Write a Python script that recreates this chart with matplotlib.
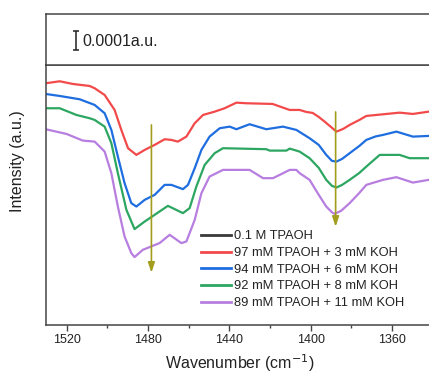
import matplotlib
matplotlib.use("Agg")
import matplotlib.pyplot as plt
from matplotlib.lines import Line2D

plt.rcParams['font.family'] = ['Liberation Sans', 'DejaVu Sans']

# ---- data (wavenumber cm^-1, intensity in arbitrary units) ----
labels = ["0.1 M TPAOH", "97 mM TPAOH + 3 mM KOH", "94 mM TPAOH + 6 mM KOH",
          "92 mM TPAOH + 8 mM KOH", "89 mM TPAOH + 11 mM KOH"]
colors = ["#3a3a3a", "#f24a4a", "#1f6ee0", "#2ca660", "#b77ee0"]

wn_red = [1530.3, 1523.4, 1516.9, 1508.7, 1506.2, 1501.3, 1496.4, 1493.1, 1489.8, 1485.7,
          1481.6, 1476.7, 1471.8, 1468.5, 1465.3, 1461.1, 1457.0, 1452.9, 1447.2, 1442.3,
          1436.5, 1431.6, 1418.7, 1410.3, 1405.4, 1402.1, 1399.0, 1396.0, 1393.1, 1390.0,
          1387.3, 1384.0, 1380.8, 1376.0, 1372.6, 1362.7, 1356.2, 1349.7, 1341.9]
int_red = [241.7, 243.7, 241.0, 239.0, 236.7, 230.0, 215.0, 195.0, 176.7, 170.0,
           175.0, 180.0, 185.7, 185.0, 183.3, 188.3, 201.7, 210.0, 213.3, 216.7,
           222.3, 221.7, 221.0, 215.0, 215.0, 213.0, 212.0, 208.0, 203.3, 198.0,
           193.3, 196.0, 200.0, 205.0, 209.0, 211.0, 212.3, 211.0, 213.3]

wn_blue = [1530.3, 1523.4, 1513.6, 1506.2, 1501.3, 1498.0, 1494.8, 1491.5, 1488.2, 1485.7,
           1481.6, 1476.7, 1471.8, 1468.5, 1462.8, 1460.3, 1457.0, 1453.7, 1449.7, 1444.7,
           1439.8, 1436.5, 1430.0, 1421.8, 1413.6, 1407.0, 1400.5, 1396.0, 1392.3, 1389.5,
           1387.3, 1384.5, 1380.8, 1376.0, 1372.6, 1368.0, 1364.4, 1357.8, 1349.7, 1341.9]
int_blue = [231.0, 229.0, 225.7, 220.0, 211.7, 195.0, 168.3, 141.7, 121.7, 118.3,
            125.0, 130.0, 140.0, 140.0, 135.7, 140.0, 156.7, 175.0, 188.3, 196.7,
            198.3, 195.7, 200.7, 195.7, 198.3, 195.0, 186.7, 180.0, 170.0, 164.0,
            163.3, 166.0, 171.7, 179.0, 185.0, 188.5, 190.0, 193.3, 188.3, 189.0]

wn_green = [1530.3, 1523.4, 1515.2, 1508.7, 1506.2, 1501.3, 1498.0, 1494.8, 1490.6, 1486.6,
            1481.6, 1476.7, 1470.2, 1462.8, 1459.5, 1456.2, 1452.1, 1447.2, 1443.1, 1421.8,
            1420.1, 1411.9, 1410.3, 1407.0, 1405.4, 1400.5, 1396.0, 1392.3, 1389.5, 1387.3,
            1384.5, 1380.8, 1376.0, 1372.6, 1366.0, 1356.2, 1351.3, 1341.9]
int_green = [216.7, 216.7, 210.0, 206.7, 205.0, 198.3, 181.7, 151.7, 115.0, 95.7,
             103.3, 110.0, 119.0, 111.7, 116.7, 138.3, 160.0, 171.7, 176.7, 175.7,
             174.3, 174.3, 176.3, 174.3, 173.3, 166.7, 157.0, 145.0, 139.0, 137.3,
             140.0, 145.0, 152.0, 158.3, 170.0, 170.0, 166.7, 166.7]

wn_purple = [1530.3, 1520.1, 1512.0, 1506.2, 1501.3, 1498.0, 1494.8, 1491.5, 1488.2, 1486.6,
             1482.5, 1477.6, 1474.3, 1469.3, 1463.6, 1461.1, 1457.0, 1453.7, 1449.7, 1443.1,
             1430.0, 1423.4, 1418.5, 1415.2, 1410.3, 1407.0, 1405.4, 1400.5, 1396.0, 1392.3,
             1389.5, 1388.2, 1385.0, 1380.8, 1376.0, 1372.6, 1364.4, 1357.8, 1349.7, 1341.9]
int_purple = [195.7, 191.0, 184.3, 183.3, 173.3, 151.7, 118.3, 88.3, 71.7, 67.7,
              75.0, 79.0, 81.7, 90.0, 81.7, 83.3, 105.0, 131.7, 148.3, 155.0,
              155.0, 146.7, 146.7, 150.0, 155.0, 155.0, 151.7, 145.0, 130.0, 118.3,
              112.5, 111.0, 114.0, 121.7, 132.0, 140.0, 145.0, 147.7, 142.3, 145.0]

# trend arrows: (wavenumber, start intensity, end intensity)
arrow_wn = [1478.3, 1387.7]
arrow_start = [200.0, 213.0]
arrow_end = [52.0, 98.0]

xticks = [1520, 1480, 1440, 1400, 1360]

# ---- figure ----
W, H = 429, 376
fig = plt.figure(figsize=(W / 100, H / 100), dpi=100)
left = 46.3 / W
width = 386.3 / W
ax = fig.add_axes([left, (H - 324.7) / H, width, (324.7 - 65) / H])
axt = fig.add_axes([left, (H - 65) / H, width, 51 / H])

spine_c = "#454545"
for a in (ax, axt):
    for s in a.spines.values():
        s.set_color(spine_c)
        s.set_linewidth(1.1)
    a.set_xlim(1530, 1340)

series = [(wn_red, int_red), (wn_blue, int_blue), (wn_green, int_green), (wn_purple, int_purple)]
for (wx, wy), c in zip(series, colors[1:]):
    ax.plot(wx, wy, color=c, lw=1.6, solid_joinstyle='round', solid_capstyle='round')

for xw, y0, y1 in zip(arrow_wn, arrow_start, arrow_end):
    ax.annotate("", xy=(xw, y1), xytext=(xw, y0),
                arrowprops=dict(arrowstyle="-|>,head_length=0.6,head_width=0.2",
                                color="#a39d1e", lw=1.2, shrinkA=0, shrinkB=0))

ax.set_ylim(0, 260)
ax.set_yticks([])
ax.set_xticks(xticks)
ax.set_xticks([1500, 1460, 1420, 1380], minor=True)
ax.tick_params(axis='x', which='major', direction='out', length=4, width=1, color=spine_c,
               labelsize=9, pad=3, labelcolor="#222222")
ax.tick_params(axis='x', which='minor', direction='out', length=2.5, width=1, color=spine_c)
ax.set_xlabel("Wavenumber (cm$^{-1}$)", fontsize=11.5, labelpad=4, color="#222222")
ax.set_ylabel("Intensity (a.u.)", fontsize=11.5, color="#222222")
ax.yaxis.set_label_coords(-0.055, 0.63)

handles = [Line2D([], [], color=c, lw=2) for c in colors]
leg = ax.legend(handles, labels, loc='lower left', bbox_to_anchor=(0.40, 0.06),
                frameon=False, fontsize=9.3, handlelength=2.3, handletextpad=0.25,
                labelspacing=0.36, borderaxespad=0, borderpad=0)
for t in leg.get_texts():
    t.set_color("#222222")

# scale bar panel
axt.set_xticks([])
axt.set_yticks([])
axt.set_ylim(0, 1)
axt.errorbar([1515.6], [0.48], yerr=[[0.185], [0.185]], fmt='none', ecolor="#222222",
             elinewidth=1.1, capsize=2.5, capthick=1.1)
axt.text(1512.3, 0.47, "0.0001a.u.", fontsize=11.5, va='center', ha='left', color="#222222")

fig.savefig("out.png", dpi=100)
